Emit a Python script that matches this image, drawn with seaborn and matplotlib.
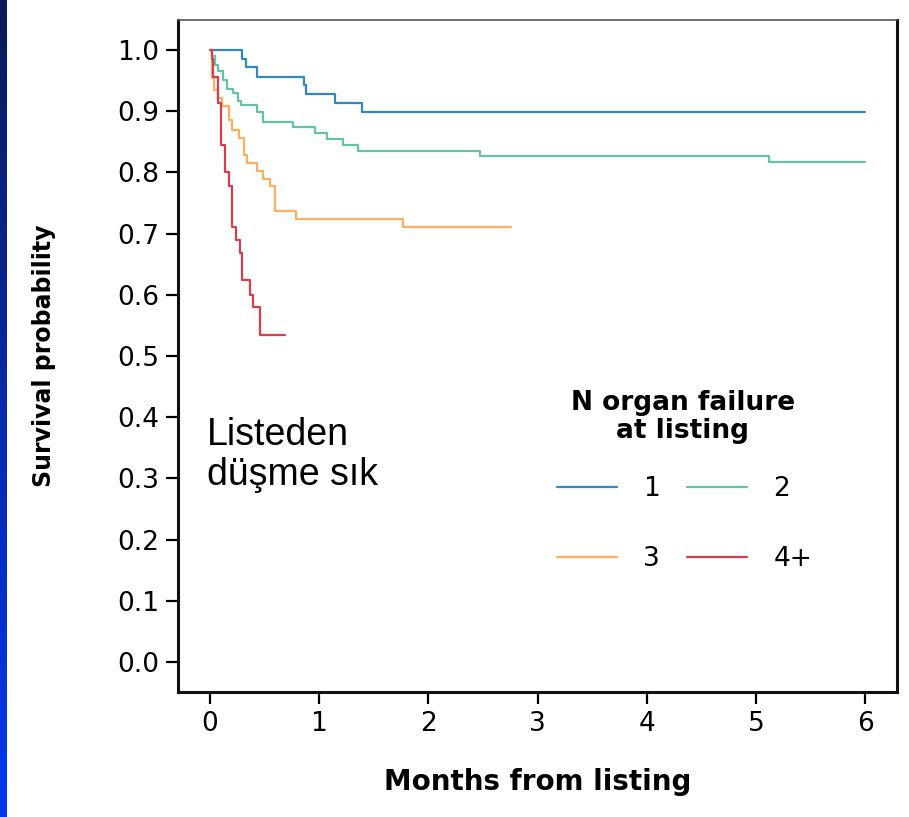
import numpy as np
import pandas as pd
import seaborn as sns
import matplotlib.pyplot as plt
from matplotlib.lines import Line2D
from matplotlib.colors import LinearSegmentedColormap

# Kaplan-Meier step values (months, survival)
t_1 = [0, 0.30, 0.335, 0.43, 0.86, 0.885, 1.15, 1.39, 6.0]
s_1 = [1.0, 0.986, 0.972, 0.956, 0.943, 0.928, 0.913, 0.898, 0.898]

t_2 = [0, 0.02, 0.05, 0.08, 0.12, 0.16, 0.21, 0.26, 0.29, 0.43, 0.49,
       0.76, 0.96, 1.07, 1.22, 1.36, 2.47, 5.12, 6.0]
s_2 = [1.0, 0.99, 0.975, 0.965, 0.951, 0.937, 0.929, 0.916, 0.91, 0.899, 0.883,
       0.874, 0.864, 0.855, 0.845, 0.835, 0.826, 0.817, 0.817]

t_3 = [0, 0.02, 0.04, 0.08, 0.11, 0.18, 0.20, 0.27, 0.31, 0.34, 0.43, 0.49,
       0.55, 0.60, 0.79, 1.77, 2.76]
s_3 = [1.0, 0.954, 0.935, 0.921, 0.908, 0.886, 0.869, 0.856, 0.828, 0.816, 0.803, 0.79,
       0.777, 0.737, 0.724, 0.711, 0.711]

t_4 = [0, 0.02, 0.03, 0.076, 0.107, 0.137, 0.177, 0.207, 0.238, 0.274, 0.299,
       0.366, 0.396, 0.463, 0.69]
s_4 = [1.0, 0.985, 0.956, 0.913, 0.845, 0.801, 0.778, 0.711, 0.69, 0.668, 0.624,
       0.6, 0.58, 0.534, 0.534]

groups = ["1", "2", "3", "4+"]
colors = ["#3288BD", "#66C2A5", "#FDAE61", "#D53E4F"]
x_ticks = [0, 1, 2, 3, 4, 5, 6]
y_ticks = [0.0, 0.1, 0.2, 0.3, 0.4, 0.5, 0.6, 0.7, 0.8, 0.9, 1.0]
y_tick_labels = ["0.0", "0.1", "0.2", "0.3", "0.4", "0.5", "0.6", "0.7", "0.8", "0.9", "1.0"]

frames = []
for g, t, s in zip(groups, [t_1, t_2, t_3, t_4], [s_1, s_2, s_3, s_4]):
    frames.append(pd.DataFrame({"months": t, "surv": s, "group": g}))
df = pd.concat(frames, ignore_index=True)

sns.set_style("white")
plt.rcParams["font.family"] = ["DejaVu Sans"]
plt.rcParams["text.color"] = "black"
plt.rcParams["axes.labelcolor"] = "black"
plt.rcParams["xtick.color"] = "black"
plt.rcParams["ytick.color"] = "black"

W, H = 909, 817
fig = plt.figure(figsize=(W / 100, H / 100), dpi=100)

# blue slide edge on the left
edge = fig.add_axes([0, 0, 6.5 / W, 1])
cmap = LinearSegmentedColormap.from_list("edge", ["#0B1A58", "#0A2AA8", "#0437F0"])
edge.imshow(np.linspace(0, 1, 256).reshape(-1, 1), aspect="auto", cmap=cmap)
edge.set_axis_off()

ax = fig.add_axes([178 / W, 1 - 692 / H, (897 - 178) / W, (692 - 20) / H])
sns.lineplot(data=df, x="months", y="surv", hue="group", palette=dict(zip(groups, colors)),
             drawstyle="steps-post", estimator=None, linewidth=1.6, legend=False, ax=ax)

ax.set_xlim(-0.29, 6.29)
ax.set_ylim(-0.049, 1.049)
ax.set_xticks(x_ticks)
ax.set_xticklabels([str(v) for v in x_ticks])
ax.set_yticks(y_ticks)
ax.set_yticklabels(y_tick_labels)
ax.tick_params(axis="both", bottom=True, left=True, direction="out", length=8.5, width=1.6,
               labelsize=19, pad=5, colors="black")

for side in ["left", "bottom", "right"]:
    ax.spines[side].set_linewidth(2.2)
    ax.spines[side].set_color("#111111")
ax.spines["top"].set_linewidth(1.2)
ax.spines["top"].set_color("#555555")

ax.set_xlabel("Months from listing", fontsize=20, fontweight="bold")
ax.set_ylabel("Survival probability", fontsize=17, fontweight="bold")
ax.xaxis.set_label_coords(0.5, -0.113)
ax.yaxis.set_label_coords(-0.17, 0.5)

# legend: title as text, entries as two columns
fig.text(683 / W, 1 - 390 / H, "N organ failure\nat listing", fontsize=19, fontweight="bold",
         ha="center", va="top", multialignment="center", linespacing=1.12)
order = [0, 2, 1, 3]
handles = [Line2D([0], [0], color=colors[i], lw=1.6) for i in order]
ax.legend(handles, [groups[i] for i in order], ncol=2, frameon=False, fontsize=19,
          handlelength=2.27, handletextpad=0.98, columnspacing=1.06, labelspacing=1.68,
          borderpad=0, borderaxespad=0, loc="upper left",
          bbox_to_anchor=(557 / W, 1 - 476 / H), bbox_transform=fig.transFigure)

fig.text(207 / W, 1 - 417 / H, "Listeden\ndüşme sık", fontsize=27, family=["Liberation Sans"],
         ha="left", va="top", linespacing=1.13)

fig.savefig("out.png", dpi=100)
